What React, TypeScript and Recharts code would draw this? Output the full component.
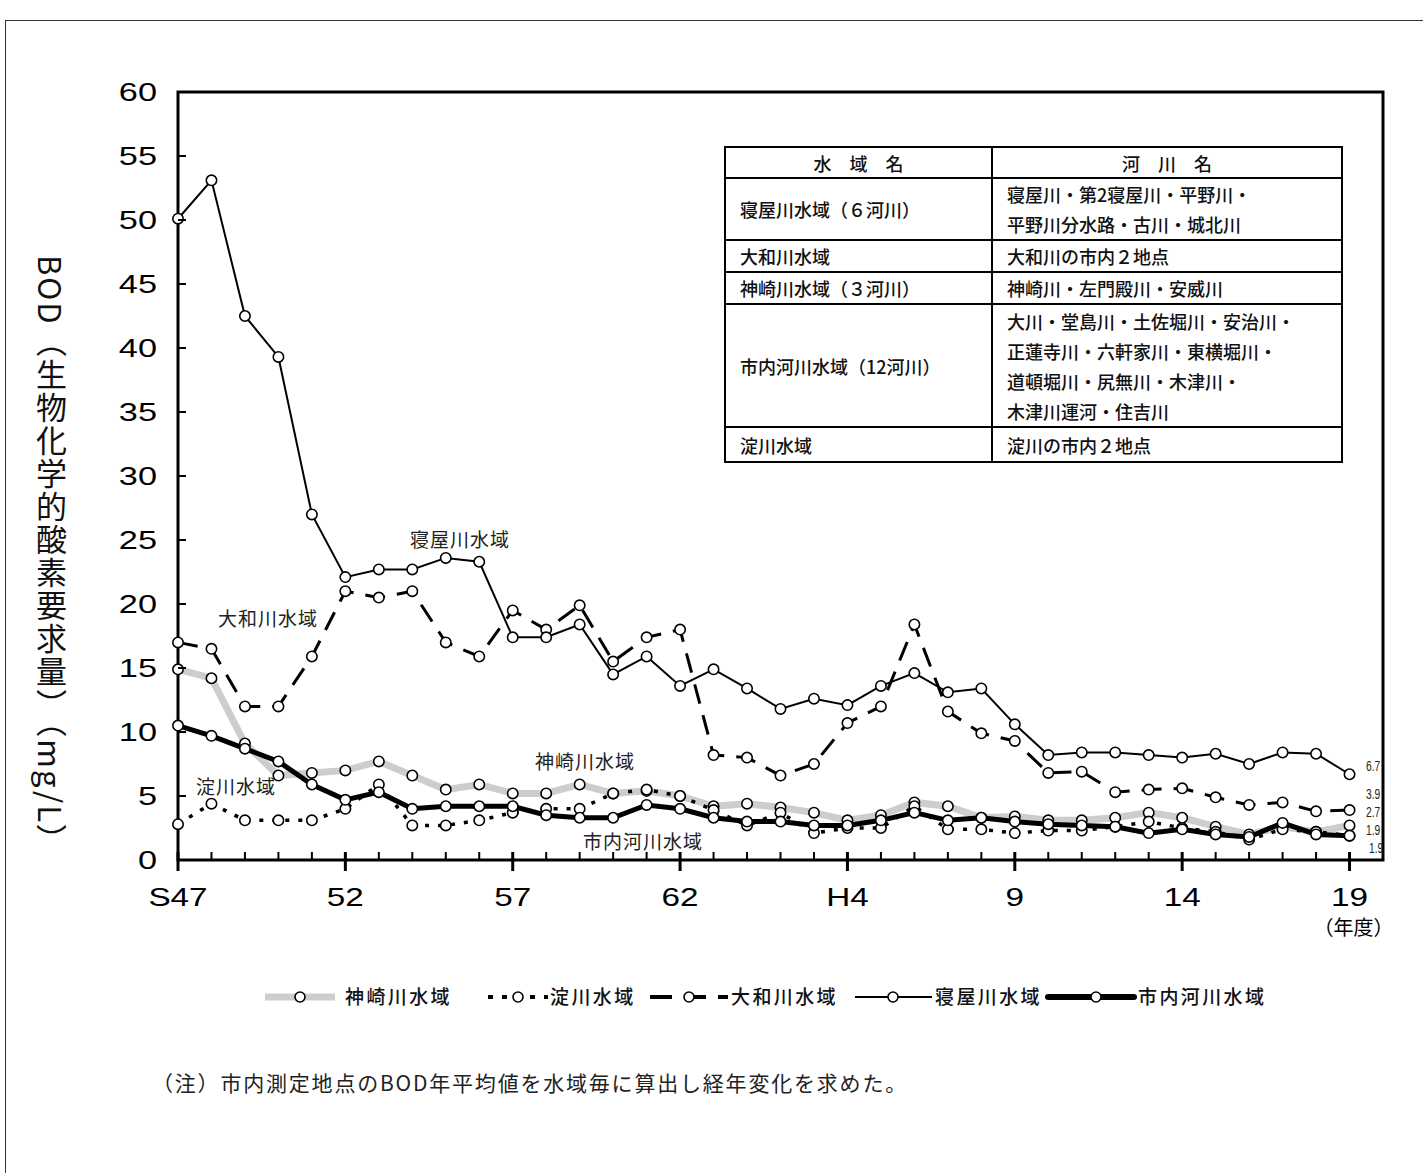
import { LineChart, Line, XAxis, YAxis, ReferenceArea } from 'recharts';

const JP = '"Noto Sans CJK JP", "Noto Sans", sans-serif';
const NUM = '"Liberation Sans", Arial, sans-serif';

// 年度 (S47 .. H19)
const YEARS = [
  'S47', 'S48', 'S49', 'S50', 'S51', 'S52', 'S53', 'S54', 'S55', 'S56', 'S57', 'S58',
  'S59', 'S60', 'S61', 'S62', 'S63', 'H1', 'H2', 'H3', 'H4', 'H5', 'H6', 'H7',
  'H8', 'H9', 'H10', 'H11', 'H12', 'H13', 'H14', 'H15', 'H16', 'H17', 'H18', 'H19',
];
const X_TICK_LABELS = ['S47', '52', '57', '62', 'H4', '9', '14', '19'];
const Y_TICKS = [0, 5, 10, 15, 20, 25, 30, 35, 40, 45, 50, 55, 60];

// BOD mg/L per water area
const KANZAKI = [14.9, 14.2, 9.1, 6.6, 6.8, 7.0, 7.7, 6.6, 5.5, 5.9, 5.2, 5.2, 5.9, 5.2, 5.4, 5.0, 4.2, 4.4, 4.1, 3.7, 3.1, 3.5, 4.5, 4.2, 3.3, 3.4, 3.1, 3.1, 3.3, 3.7, 3.3, 2.6, 2.0, 2.6, 2.2, 2.7];
const YODO = [2.8, 4.4, 3.1, 3.1, 3.1, 4.0, 5.9, 2.7, 2.7, 3.1, 3.7, 4.0, 4.0, 5.2, 5.5, 5.0, 3.9, 2.7, 3.7, 2.1, 2.5, 2.5, 4.2, 2.4, 2.4, 2.1, 2.3, 2.3, 2.6, 3.0, 2.5, 2.2, 1.6, 2.4, 2.2, 1.9];
const YAMATO = [17.0, 16.5, 12.0, 12.0, 15.9, 21.0, 20.5, 21.0, 17.0, 15.9, 19.5, 18.0, 19.9, 15.5, 17.4, 18.0, 8.2, 8.0, 6.6, 7.5, 10.7, 12.0, 18.4, 11.6, 9.9, 9.3, 6.8, 6.9, 5.3, 5.5, 5.6, 4.9, 4.3, 4.5, 3.8, 3.9];
const NEYAGAWA = [50.1, 53.1, 42.5, 39.3, 27.0, 22.1, 22.7, 22.7, 23.6, 23.3, 17.4, 17.4, 18.4, 14.5, 15.9, 13.6, 14.9, 13.4, 11.8, 12.6, 12.1, 13.6, 14.6, 13.1, 13.4, 10.6, 8.2, 8.4, 8.4, 8.2, 8.0, 8.3, 7.5, 8.4, 8.3, 6.7];
const CITY = [10.5, 9.7, 8.7, 7.7, 5.9, 4.7, 5.3, 4.0, 4.2, 4.2, 4.2, 3.5, 3.3, 3.3, 4.3, 4.0, 3.3, 3.0, 3.0, 2.7, 2.7, 3.1, 3.7, 3.1, 3.3, 3.0, 2.8, 2.7, 2.6, 2.1, 2.4, 2.0, 1.8, 2.9, 2.0, 1.9];

const TABLE_ROWS = [
  { area: '寝屋川水域（６河川）', rivers: ['寝屋川・第2寝屋川・平野川・', '平野川分水路・古川・城北川'], h: 61 },
  { area: '大和川水域', rivers: ['大和川の市内２地点'], h: 32 },
  { area: '神崎川水域（３河川）', rivers: ['神崎川・左門殿川・安威川'], h: 32 },
  { area: '市内河川水域（12河川）', rivers: ['大川・堂島川・土佐堀川・安治川・', '正蓮寺川・六軒家川・東横堀川・', '道頓堀川・尻無川・木津川・', '木津川運河・住吉川'], h: 123 },
  { area: '淀川水域', rivers: ['淀川の市内２地点'], h: 35 },
];

const chartData = YEARS.map((yr, i) => ({
  i, yr,
  kanzaki: KANZAKI[i], yodo: YODO[i], yamato: YAMATO[i],
  neyagawa: NEYAGAWA[i], city: CITY[i],
}));

// eslint-disable-next-line @typescript-eslint/no-explicit-any
function Dot(props: any) {
  const { cx, cy, index } = props;
  if (cx == null || cy == null) return <g key={index} />;
  return <circle key={index} cx={cx} cy={cy} r={5.2} fill="#fff" stroke="#000" strokeWidth={1.6} />;
}

// eslint-disable-next-line @typescript-eslint/no-explicit-any
function XTick({ x, y, payload }: any) {
  const v = payload.value as number;
  const major = v % 5 === 0;
  return (
    <g>
      <line x1={x} x2={x} y1={y - 8} y2={major ? y + 11 : y} stroke="#000" strokeWidth={major ? 3 : 2} />
      {major && (
        <text transform={`translate(${x},${y + 46}) scale(1.28,1)`} textAnchor="middle"
          fontSize={26} fontFamily={NUM} fill="#000">
          {X_TICK_LABELS[v / 5]}
        </text>
      )}
    </g>
  );
}

// eslint-disable-next-line @typescript-eslint/no-explicit-any
function YTick({ x, y, payload }: any) {
  return (
    <g>
      <line x1={x} x2={x + 8} y1={y} y2={y} stroke="#000" strokeWidth={2} />
      <text transform={`translate(${x - 21},${y + 9}) scale(1.32,1)`} textAnchor="end"
        fontSize={26} fontFamily={NUM} fill="#000">
        {payload.value}
      </text>
    </g>
  );
}

const chartLabel = (text: string, cx: number, cy: number) => (
  <div key={text} style={{
    position: 'absolute', left: cx, top: cy, transform: 'translate(-50%,-50%)',
    fontSize: 19, letterSpacing: 1, color: '#222', fontFamily: JP, whiteSpace: 'nowrap',
  }}>{text}</div>
);

const last = (arr: number[]) => arr[arr.length - 1].toFixed(1);

export default function App() {
  return (
    <div style={{ position: 'absolute', left: 0, top: 0, width: 1423, height: 1173, background: '#fff', fontFamily: JP, overflow: 'hidden' }}>
      {/* page frame */}
      <div style={{ position: 'absolute', left: 5, top: 20, width: 1440, height: 1200, borderLeft: '1.5px solid #333', borderTop: '1.5px solid #333' }} />

      <LineChart width={1423} height={1173} data={chartData}
        margin={{ top: 92, right: 40, left: 118, bottom: 273 }}>
        <XAxis dataKey="i" type="number" domain={[0, 36]} ticks={YEARS.map((_, i) => i)} interval={0}
          height={40} axisLine={false} tickLine={false} tickSize={0} tickMargin={0} tick={<XTick />} />
        <YAxis type="number" domain={[0, 60]} ticks={Y_TICKS} interval={0} width={60}
          axisLine={false} tickLine={false} tickSize={0} tickMargin={0} tick={<YTick />} />
        <Line dataKey="kanzaki" type="linear" stroke="#cdcdcd" strokeWidth={7} dot={<Dot />} isAnimationActive={false} />
        <Line dataKey="yodo" type="linear" stroke="#000" strokeWidth={3.5} strokeDasharray="4 9" dot={<Dot />} isAnimationActive={false} />
        <Line dataKey="yamato" type="linear" stroke="#000" strokeWidth={3} strokeDasharray="20 12" dot={<Dot />} isAnimationActive={false} />
        <Line dataKey="neyagawa" type="linear" stroke="#000" strokeWidth={2} dot={<Dot />} isAnimationActive={false} />
        <Line dataKey="city" type="linear" stroke="#000" strokeWidth={5} dot={<Dot />} isAnimationActive={false} />
        <ReferenceArea x1={0} x2={36} y1={0} y2={60} fill="none" fillOpacity={0} stroke="#000" strokeWidth={3} ifOverflow="visible" />
      </LineChart>

      {/* y axis title */}
      <div style={{
        position: 'absolute', left: 36, top: 255, fontSize: 31, letterSpacing: 2, writingMode: 'vertical-rl',
        color: '#111', fontFamily: JP, lineHeight: 1, whiteSpace: 'nowrap',
      }}>BOD（生物化学的酸素要求量）（mg/L）</div>

      <div style={{ position: 'absolute', left: 1350, top: 926, transform: 'translate(-50%,-50%)', fontSize: 20, fontFamily: JP }}>（年度）</div>

      {chartLabel('寝屋川水域', 460, 538)}
      {chartLabel('大和川水域', 268, 617)}
      {chartLabel('神崎川水域', 585, 760)}
      {chartLabel('淀川水域', 236, 785)}
      {chartLabel('市内河川水域', 643, 840)}

      {/* end values */}
      {[
        { v: last(NEYAGAWA), x: 1366, y: 765 },
        { v: last(YAMATO), x: 1366, y: 793 },
        { v: last(KANZAKI), x: 1366, y: 811 },
        { v: last(YODO), x: 1366, y: 829 },
        { v: last(CITY), x: 1369, y: 847 },
      ].map((d, k) => (
        <div key={k} style={{
          position: 'absolute', left: d.x, top: d.y, height: 13, lineHeight: '13px', transform: 'translateY(-50%) scaleX(0.68)', transformOrigin: 'left center',
          fontSize: 15, fontFamily: NUM, color: '#222', zIndex: 2,
        }}>{d.v}</div>
      ))}

      {/* table */}
      <table style={{
        position: 'absolute', left: 724, top: 146, width: 619, borderCollapse: 'collapse',
        fontSize: 18, fontWeight: 500, fontFamily: JP, color: '#111', tableLayout: 'fixed',
      }}>
        <tbody>
          <tr style={{ height: 31 }}>
            <td style={{ width: 265, border: '2px solid #000', textAlign: 'center', padding: 0 }}>水　域　名</td>
            <td style={{ border: '2px solid #000', textAlign: 'center', padding: 0 }}>河　川　名</td>
          </tr>
          {TABLE_ROWS.map((r) => (
            <tr key={r.area} style={{ height: r.h }}>
              <td style={{ border: '2px solid #000', padding: '0 0 0 14px', whiteSpace: 'nowrap' }}>{r.area}</td>
              <td style={{ border: '2px solid #000', padding: '0 0 0 14px', lineHeight: '30px', whiteSpace: 'nowrap' }}>
                {r.rivers.map((t) => <div key={t}>{t}</div>)}
              </td>
            </tr>
          ))}
        </tbody>
      </table>

      {/* legend */}
      <svg width={1423} height={40} style={{ position: 'absolute', left: 0, top: 977 }}>
        <g transform="translate(0,20)" fontFamily={JP} fontSize={19} letterSpacing={2.4} fill="#111" fontWeight={500}>
          <line x1={265} x2={335} y1={0} y2={0} stroke="#cdcdcd" strokeWidth={7} />
          <circle cx={300} cy={0} r={5} fill="#fff" stroke="#000" strokeWidth={1.6} />
          <text x={345} y={7}>神崎川水域</text>

          <line x1={488} x2={548} y1={0} y2={0} stroke="#000" strokeWidth={4} strokeDasharray="5 9" />
          <circle cx={518} cy={0} r={5} fill="#fff" stroke="#000" strokeWidth={1.6} />
          <text x={550} y={7}>淀川水域</text>

          <line x1={650} x2={728} y1={0} y2={0} stroke="#000" strokeWidth={4} strokeDasharray="22 12" />
          <circle cx={689} cy={0} r={5} fill="#fff" stroke="#000" strokeWidth={1.6} />
          <text x={731} y={7}>大和川水域</text>

          <line x1={855} x2={932} y1={0} y2={0} stroke="#000" strokeWidth={2} />
          <circle cx={893} cy={0} r={5} fill="#fff" stroke="#000" strokeWidth={1.6} />
          <text x={935} y={7}>寝屋川水域</text>

          <line x1={1048} x2={1134} y1={0} y2={0} stroke="#000" strokeWidth={6} strokeLinecap="round" />
          <circle cx={1096} cy={0} r={5} fill="#fff" stroke="#000" strokeWidth={1.6} />
          <text x={1138} y={7}>市内河川水域</text>
        </g>
      </svg>

      <div style={{ position: 'absolute', left: 152, top: 1082, transform: 'translateY(-50%)', fontSize: 21, letterSpacing: 1.8, fontFamily: JP, color: '#222', whiteSpace: 'nowrap' }}>
        （注）市内測定地点のBOD年平均値を水域毎に算出し経年変化を求めた。
      </div>
    </div>
  );
}
